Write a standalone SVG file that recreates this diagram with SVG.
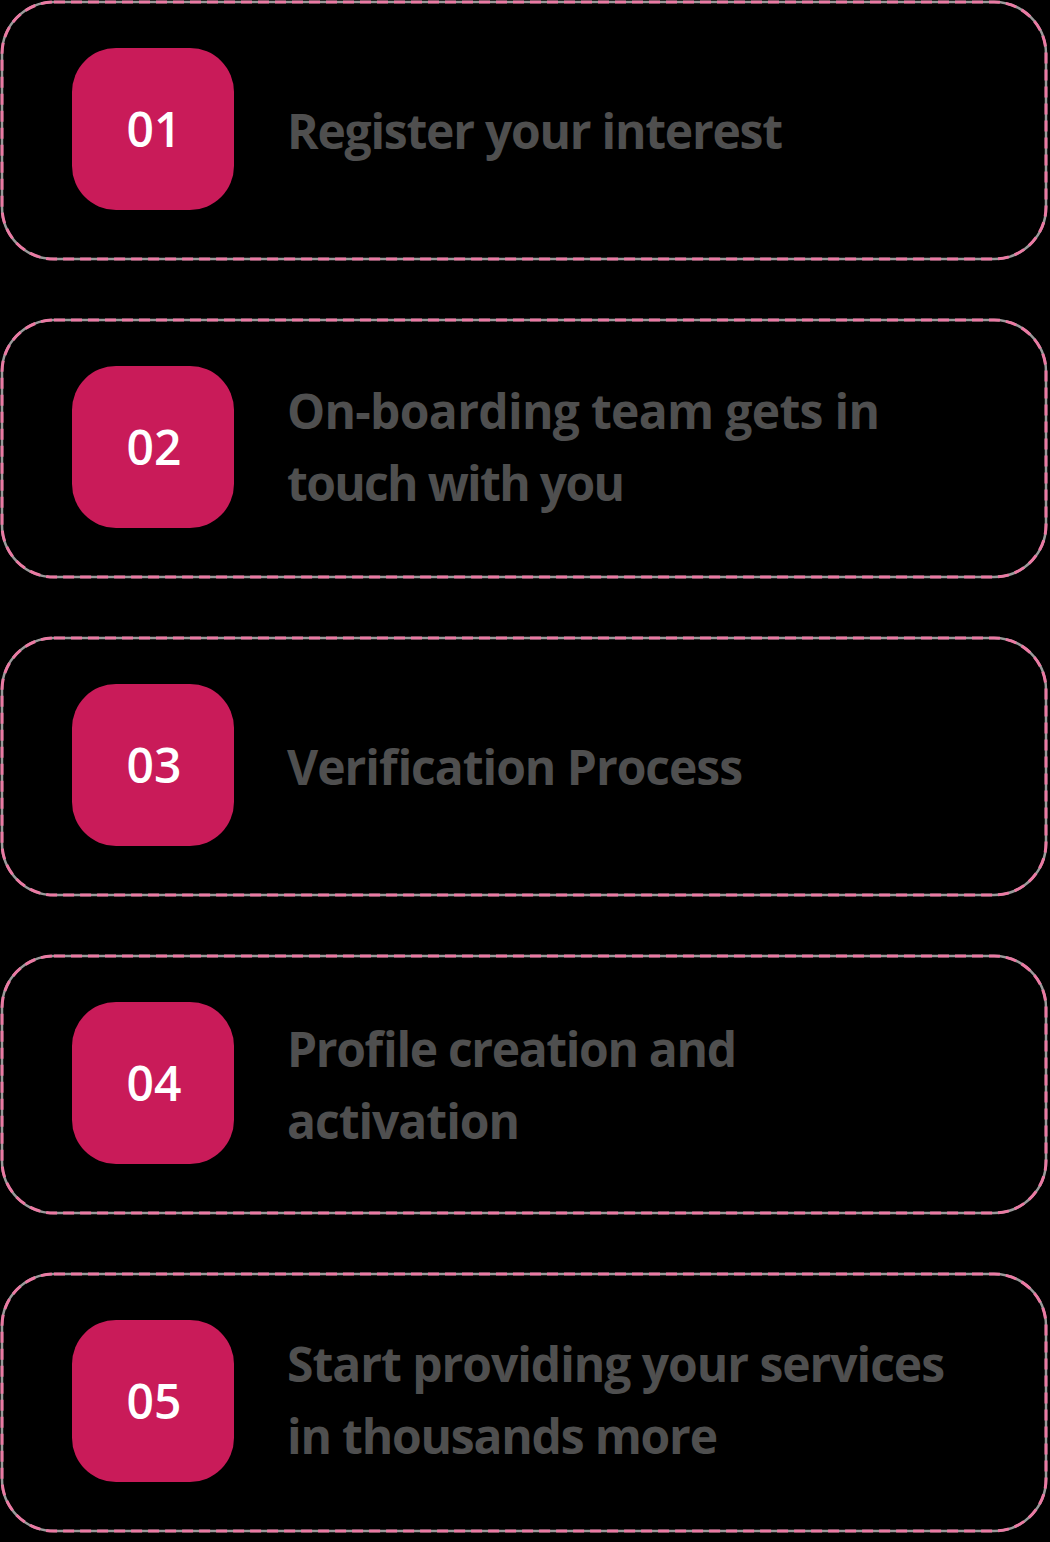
<svg xmlns="http://www.w3.org/2000/svg" width="1050" height="1542" viewBox="0 0 1050 1542">
<style>
.halo{fill:none;stroke:#9a9a9a;stroke-width:2.5}
.dash{fill:none;stroke:#ea7aa3;stroke-width:3;stroke-dasharray:11 6}
.badge{fill:#c91b59}
.num{font-family:"Open Sans","Liberation Sans",sans-serif;font-weight:600;font-size:48px;fill:#ffffff;text-anchor:middle}
.lbl{font-family:"Open Sans","Liberation Sans",sans-serif;font-weight:700;font-size:48px;fill:#4f4f4f}
</style>
<rect x="0" y="0" width="1050" height="1542" fill="#000000"/>
<g id="step1">
<rect class="halo" x="2" y="2" width="1044" height="257" rx="52"/>
<rect class="dash" x="2" y="2" width="1044" height="257" rx="52"/>
<rect class="badge" x="72" y="48" width="162" height="162" rx="44"/>
<text class="num" x="154" y="147">01</text>
<text class="lbl" x="287" y="149" textLength="496" lengthAdjust="spacing">Register your interest</text>
</g>
<g id="step2">
<rect class="halo" x="2" y="320" width="1044" height="257" rx="52"/>
<rect class="dash" x="2" y="320" width="1044" height="257" rx="52"/>
<rect class="badge" x="72" y="366" width="162" height="162" rx="44"/>
<text class="num" x="154" y="465">02</text>
<text class="lbl" x="287" y="429" textLength="593" lengthAdjust="spacing">On-boarding team gets in</text>
<text class="lbl" x="287" y="501" textLength="338" lengthAdjust="spacing">touch with you</text>
</g>
<g id="step3">
<rect class="halo" x="2" y="638" width="1044" height="257" rx="52"/>
<rect class="dash" x="2" y="638" width="1044" height="257" rx="52"/>
<rect class="badge" x="72" y="684" width="162" height="162" rx="44"/>
<text class="num" x="154" y="783">03</text>
<text class="lbl" x="287" y="785" textLength="456" lengthAdjust="spacing">Verification Process</text>
</g>
<g id="step4">
<rect class="halo" x="2" y="956" width="1044" height="257" rx="52"/>
<rect class="dash" x="2" y="956" width="1044" height="257" rx="52"/>
<rect class="badge" x="72" y="1002" width="162" height="162" rx="44"/>
<text class="num" x="154" y="1101">04</text>
<text class="lbl" x="287" y="1067" textLength="450" lengthAdjust="spacing">Profile creation and</text>
<text class="lbl" x="287" y="1139" textLength="233" lengthAdjust="spacing">activation</text>
</g>
<g id="step5">
<rect class="halo" x="2" y="1274" width="1044" height="257" rx="52"/>
<rect class="dash" x="2" y="1274" width="1044" height="257" rx="52"/>
<rect class="badge" x="72" y="1320" width="162" height="162" rx="44"/>
<text class="num" x="154" y="1419">05</text>
<text class="lbl" x="287" y="1382" textLength="658" lengthAdjust="spacing">Start providing your services</text>
<text class="lbl" x="287" y="1454" textLength="431" lengthAdjust="spacing">in thousands more</text>
</g>
<g id="connectors"></g>
</svg>
